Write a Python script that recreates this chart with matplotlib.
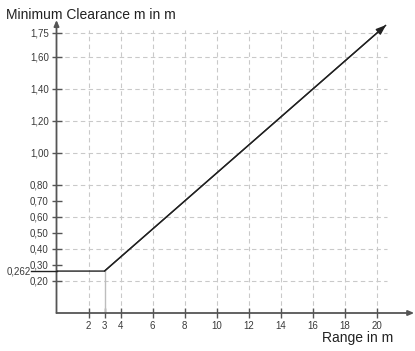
import matplotlib
matplotlib.use('Agg')
import matplotlib.pyplot as plt

plt.rcParams['font.family'] = ['Liberation Sans', 'DejaVu Sans']

# ---- data ----
range_m = [0, 3, 20.6]
clearance_m = [0.262, 0.262, 1.80]
x_ticks = [2, 3, 4, 6, 8, 10, 12, 14, 16, 18, 20]
x_tick_labels = ['2', '3', '4', '6', '8', '10', '12', '14', '16', '18', '20']
y_ticks = [0.20, 0.30, 0.40, 0.50, 0.60, 0.70, 0.80, 1.00, 1.20, 1.40, 1.60, 1.75]
y_tick_labels = ['0,20', '0,30', '0,40', '0,50', '0,60', '0,70', '0,80',
                 '1,00', '1,20', '1,40', '1,60', '1,75']
x_grid = [2, 4, 6, 8, 10, 12, 14, 16, 18, 20]
y_grid = [0.20, 0.40, 0.60, 0.80, 1.00, 1.20, 1.40, 1.60, 1.75]
min_value = 0.262
min_label = '0,262'
break_range = 3

W, H = 415, 351
x0px, y0px = 56.5, 313.0
sx, sy = 16.0, 160.0

fig = plt.figure(figsize=(W / 100, H / 100), dpi=100)
ax = fig.add_axes([x0px / W, (H - y0px) / H, (W - x0px) / W, y0px / H])
xmax = (W - x0px) / sx
ymax = y0px / sy
ax.set_xlim(0, xmax)
ax.set_ylim(0, ymax)
for s in ax.spines.values():
    s.set_visible(False)

axis_col = '#555555'
grid_col = '#c9c9c9'
line_col = '#222222'
text_col = '#3a3a3a'

# grid
ax.vlines(x_grid, 0, 1.77, colors=grid_col, linestyles=(0, (4, 3)), lw=0.8, zorder=1)
ax.hlines(y_grid, 0, 20.65, colors=grid_col, linestyles=(0, (4, 3)), lw=0.8, zorder=1)

# axes with arrows
ax.annotate('', xy=(xmax - 0.05, 0), xytext=(0, 0), annotation_clip=False,
            arrowprops=dict(arrowstyle='-|>,head_length=0.35,head_width=0.15',
                            color=axis_col, lw=1.3, shrinkA=0, shrinkB=0), zorder=3)
ax.annotate('', xy=(0, (y0px - 20) / sy), xytext=(0, 0), annotation_clip=False,
            arrowprops=dict(arrowstyle='-|>,head_length=0.35,head_width=0.15',
                            color=axis_col, lw=1.3, shrinkA=0, shrinkB=0), zorder=3)

# ticks
ax.set_xticks(x_ticks)
ax.set_xticklabels(x_tick_labels)
ax.set_yticks(y_ticks)
ax.set_yticklabels(y_tick_labels)
ax.tick_params(direction='inout', length=7, width=1.0, color=axis_col,
               labelsize=7, labelcolor=text_col, pad=2)

# marker at the break
ax.plot([break_range, break_range], [0, min_value], color='#bdbdbd', lw=1.0, zorder=2)
ax.plot([-(x0px - 31) / sx, 0], [min_value, min_value], color=line_col, lw=1.0,
        clip_on=False, zorder=4)
ax.text(-(x0px - 31) / sx, min_value, min_label, ha='right', va='center',
        fontsize=7, color=text_col)

# data line
ax.plot(range_m, clearance_m, color=line_col, lw=1.0, zorder=4, solid_capstyle='butt')
ax.annotate('', xy=(range_m[-1], clearance_m[-1]), xytext=(range_m[-2], clearance_m[-2]),
            arrowprops=dict(arrowstyle='-|>,head_length=0.6,head_width=0.22',
                            color=line_col, lw=1.0, shrinkA=0, shrinkB=0), zorder=4)

fig.text(6 / W, 1 - 19 / H, 'Minimum Clearance m in m', fontsize=10,
         color='#222222', va='baseline', ha='left')
fig.text(322 / W, 1 - 342 / H, 'Range in m', fontsize=10,
         color='#222222', va='baseline', ha='left')

fig.savefig('out.png', dpi=100)
